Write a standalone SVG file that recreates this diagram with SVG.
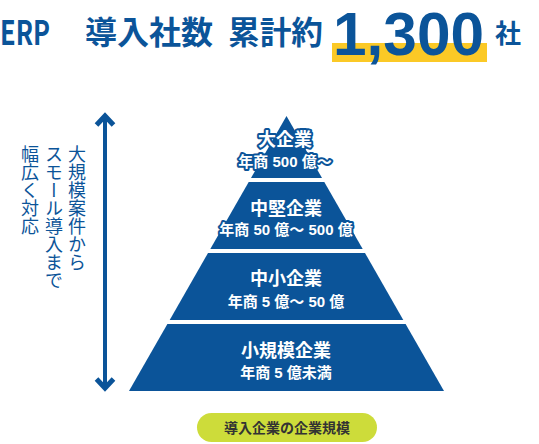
<svg xmlns="http://www.w3.org/2000/svg" width="539" height="444" viewBox="0 0 539 444">
<style>
.t{font-family:"Noto Sans CJK JP","Noto Sans",sans-serif;}
.l{font-family:"Liberation Sans","Noto Sans CJK JP",sans-serif;}
.title{fill:#0b5499;font-weight:700;}
.tier{fill:#0b5499;}
.lbl{fill:#fff;font-weight:700;text-anchor:middle;stroke:#0b5499;stroke-width:4;stroke-linejoin:round;paint-order:stroke;}
.h{font-size:18px;}
.s{font-size:15px;}
.vt{fill:#0b5499;font-size:18px;writing-mode:vertical-rl;}
</style>
<rect width="539" height="444" fill="#fff"/>
<g id="title">
<rect x="332" y="43" width="155" height="19" fill="#fbc926"/>
<text class="t title" x="0" y="45" font-size="34" font-weight="900" textLength="50" lengthAdjust="spacingAndGlyphs">ERP</text>
<text class="t title" x="85" y="44" font-size="32" textLength="128" lengthAdjust="spacingAndGlyphs">導入社数</text>
<text class="t title" x="228" y="44" font-size="32" textLength="95" lengthAdjust="spacingAndGlyphs">累計約</text>
<text class="l title" x="333" y="55" font-size="60.5" textLength="151" lengthAdjust="spacingAndGlyphs">1,300</text>
<text class="t title" x="495" y="43" font-size="26">社</text>
</g>
<g id="tier1">
<polygon class="tier" points="286.5,116 322,178 251,178"/>
<text class="l lbl h" x="285" y="146">大企業</text>
<text class="l lbl s" x="285" y="167">年商 500 億～</text>
</g>
<g id="tier2">
<polygon class="tier" points="248.7,182 324.3,182 362.7,249 210.3,249"/>
<text class="l lbl h" x="286" y="215">中堅企業</text>
<text class="l lbl s" x="286" y="235">年商 50 億～ 500 億</text>
</g>
<g id="tier3">
<polygon class="tier" points="208,253 365,253 403.3,320 169.7,320"/>
<text class="l lbl h" x="286" y="285">中小企業</text>
<text class="l lbl s" x="286" y="307">年商 5 億～ 50 億</text>
</g>
<g id="tier4">
<polygon class="tier" points="167.4,324 405.6,324 444,391 129,391"/>
<text class="l lbl h" x="286" y="357">小規模企業</text>
<text class="l lbl s" x="286" y="378">年商 5 億未満</text>
</g>
<g id="scale-arrow">
<line x1="105" y1="117" x2="105" y2="386" stroke="#0b5499" stroke-width="4"/>
<polyline points="96.5,125 105,116 113.5,125" fill="none" stroke="#0b5499" stroke-width="5"/>
<polyline points="96.5,379 105,388 113.5,379" fill="none" stroke="#0b5499" stroke-width="5"/>
</g>
<g id="side-text">
<text class="t vt" x="77" y="145">大規模案件から</text>
<text class="t vt" x="54" y="145">スモール導入まで</text>
<text class="t vt" x="30" y="145">幅広く対応</text>
</g>
<g id="caption">
<rect x="197" y="413" width="180" height="29" rx="14.5" fill="#cddc3a"/>
<text class="t" x="287" y="433" font-size="14" font-weight="700" fill="#333" text-anchor="middle">導入企業の企業規模</text>
</g>
</svg>
